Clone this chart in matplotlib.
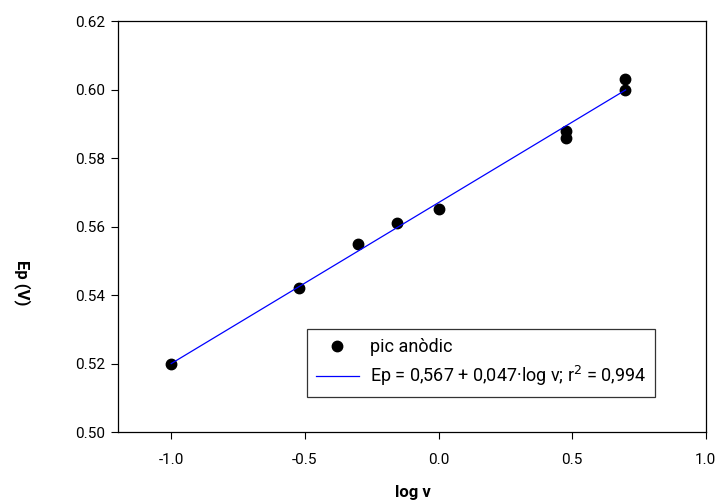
import numpy as np
import matplotlib
matplotlib.use("Agg")
import matplotlib.pyplot as plt

# anodic peak potential vs log of scan rate
log_v = [-1.0, -0.523, -0.301, -0.155, 0.0, 0.477, 0.477, 0.699, 0.699]
ep = [0.520, 0.542, 0.555, 0.561, 0.565, 0.588, 0.586, 0.603, 0.600]

# regression line Ep = a + b*log v
fit_a = 0.567
fit_b = 0.047
fit_x = [-1.0, 0.7]

plt.rcParams['font.family'] = ['Roboto', 'DejaVu Sans']

fig = plt.figure(figsize=(7.18, 5.03), dpi=100)
ax = fig.add_axes([0.164, 0.141, 0.819, 0.817])

ax.plot(log_v, ep, "o", color="black", markersize=7.5, label="pic anòdic")
fx = np.array(fit_x)
ax.plot(fx, fit_a + fit_b * fx, color="#0000ff", linewidth=0.9,
        label="Ep = 0,567 + 0,047·log v; r$^{2}$ = 0,994")

ax.set_xlim(-1.2, 1.0)
ax.set_ylim(0.50, 0.62)
ax.set_xticks([-1.0, -0.5, 0.0, 0.5, 1.0])
ax.set_xticklabels(["-1.0", "-0.5", "0.0", "0.5", "1.0"])
ax.set_yticks([0.50, 0.52, 0.54, 0.56, 0.58, 0.60, 0.62])
ax.set_yticklabels(["0.50", "0.52", "0.54", "0.56", "0.58", "0.60", "0.62"])
ax.tick_params(direction="out", length=5, width=0.8, labelsize=11)
ax.tick_params(axis="x", pad=10)
ax.tick_params(axis="y", pad=4)
for s in ax.spines.values():
    s.set_linewidth(0.9)

# axis titles placed in figure pixels like the original
fig.text(413 / 718, 1 - 493 / 503, "log v", fontsize=12, fontweight="bold",
         ha="center", va="center")
fig.text(22 / 718, 1 - 283 / 503, "Ep (V)", fontsize=12, fontweight="bold",
         ha="center", va="center", rotation=270)

leg = ax.legend(loc="lower left", bbox_to_anchor=(0.321, 0.085), fontsize=13,
                frameon=True, fancybox=False, edgecolor="black",
                handlelength=2.4, handletextpad=0.6, borderpad=0.5,
                labelspacing=0.45, borderaxespad=0)
leg.get_frame().set_linewidth(0.9)

fig.savefig("out.png", dpi=100)
